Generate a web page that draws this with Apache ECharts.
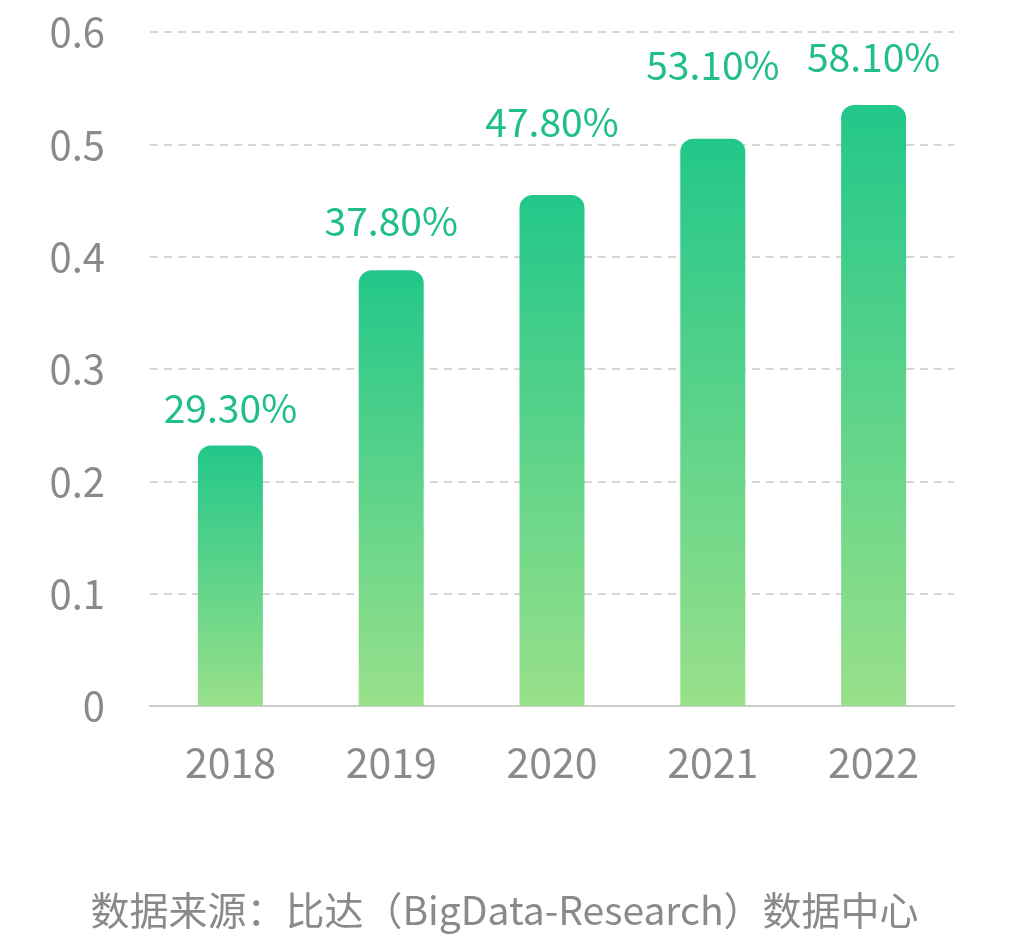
<!DOCTYPE html>
<html><head><meta charset="utf-8">
<script src="https://cdn.jsdelivr.net/npm/echarts@6/dist/echarts.min.js"></script>
<style>html,body{margin:0;padding:0;background:#fff}#c{width:1009px;height:938px}</style>
</head><body><div id="c"></div>
<script>
const categories = ['2018', '2019', '2020', '2021', '2022'];
const barValues = [0.232, 0.388, 0.455, 0.505, 0.535];
const barLabels = ['29.30%', '37.80%', '47.80%', '53.10%', '58.10%'];
const yTicks = [0, 0.1, 0.2, 0.3, 0.4, 0.5, 0.6];
const sourceText = '数据来源：比达（BigData-Research）数据中心';

const labelGap = [18, 29, 53, 54, 28];
const font = '"Noto Sans CJK SC", "Noto Sans", sans-serif';
const chart = echarts.init(document.getElementById('c'));
chart.setOption({
  animation: false,
  grid: { left: 150, right: 55, top: 32, bottom: 232 },
  xAxis: {
    type: 'category', data: categories,
    axisLine: { lineStyle: { color: '#cccccc', width: 2 } },
    axisTick: { show: false },
    axisLabel: { color: '#8a8a8a', fontSize: 41, fontFamily: font, margin: 36 }
  },
  yAxis: {
    type: 'value', min: 0, max: 0.6, interval: 0.1,
    axisLine: { show: false }, axisTick: { show: false },
    splitLine: { lineStyle: { color: '#d6d6d6', type: [8, 6], width: 2 } },
    axisLabel: { color: '#8a8a8a', fontSize: 40, fontFamily: font, margin: 45,
      formatter: v => { const t = yTicks.find(x => Math.abs(x - v) < 1e-9); return t === undefined ? '' : String(t); } }
  },
  series: [{
    type: 'bar', barWidth: 65,
    data: barValues.map((v, i) => ({
      value: v,
      label: { show: true, position: 'top', distance: labelGap[i], formatter: barLabels[i],
        color: '#1fbe8a', fontSize: 39, fontFamily: font }
    })),
    itemStyle: {
      borderRadius: [13, 13, 0, 0],
      color: new echarts.graphic.LinearGradient(0, 0, 0, 1, [
        { offset: 0, color: '#22c78a' }, { offset: 1, color: '#99e08a' }
      ], false)
    }
  }],
  graphic: [{
    type: 'text', left: 'center', top: 891,
    style: { text: sourceText, fill: '#8a8a8a', fontSize: 39, fontFamily: font }
  }]
});
</script></body></html>
